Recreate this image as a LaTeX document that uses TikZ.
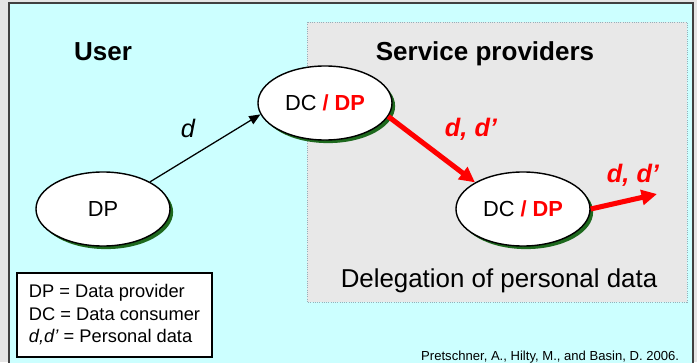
\documentclass[tikz,border=0pt]{standalone}
\usepackage{fontspec}
\setmainfont{Liberation Sans}
\usetikzlibrary{shapes.geometric,arrows.meta,shadows}

\definecolor{bgcyan}{RGB}{204,255,255}
\definecolor{panelgrey}{RGB}{232,232,232}
\definecolor{panelrim}{RGB}{150,175,185}
\definecolor{shadowgreen}{RGB}{30,105,30}

\tikzstyle{party} = [ellipse, draw, line width=1pt, fill=white, minimum width=3.35cm, minimum height=1.85cm, inner sep=0pt, font=\fontsize{15.5}{18}\selectfont, drop shadow={shadow xshift=2.2pt, shadow yshift=-2.2pt, fill=shadowgreen, opacity=1}]
\tikzstyle{flow} = [draw, line width=0.9pt, -{Triangle[length=8pt,width=6.5pt]}]
\tikzstyle{delegate} = [draw, red, line width=3.6pt, -{Triangle[length=11pt,width=10.5pt]}]
\tikzstyle{title} = [anchor=base, font=\fontsize{18.5}{22}\selectfont\bfseries]
\tikzstyle{datalabel} = [anchor=base, text=red, font=\fontsize{18}{21}\selectfont\bfseries\itshape]

\begin{document}
\begin{tikzpicture}[x=0.025cm, y=-0.025cm]

		%frame
		\useasboundingbox (0,0) rectangle (697,362);
		\fill[black!10] (0,0) rectangle (697,362);
		\draw[fill=bgcyan, draw=black!75, line width=1.2pt] (9,3) rectangle (693,372);
		%service providers area
		\draw[fill=panelgrey, draw=panelrim, densely dotted, line width=0.6pt] (307,22) rectangle (687,302);
		%titles
		\node[title] (user) at (103,60) {User};
		\node[title] (providers) at (485,60) {Service providers};
		%parties
		\node[party] (dp) at (103,209) {DP};
		\node[party] (dca) at (325,103) {DC \textcolor{red}{\textbf{/ DP}}};
		\node[party] (dcb) at (523,209) {DC \textcolor{red}{\textbf{/ DP}}};
		\coordinate (out) at (657,194);
		%arrows
		\draw[flow] (dp.30) -- (dca.190);
		\draw[delegate] (dca.-12) -- (dcb.151);
		\draw[delegate] (dcb.east) -- (out);
		%labels
		\node[anchor=base, font=\fontsize{18}{21}\selectfont\itshape] (d) at (188,137) {d};
		\node[datalabel] (dd1) at (471,136) {d, d’};
		\node[datalabel] (dd2) at (633,182) {d, d’};
		\node[anchor=base, font=\fontsize{18.4}{22}\selectfont] (delegation) at (499,287) {Delegation of personal data};
		%legend
		\node[draw, fill=white, line width=1pt, minimum width=4.875cm, minimum height=2.1cm, align=left, font=\fontsize{13}{16}\selectfont] (legend) at (114.5,315) {DP = Data provider\\DC = Data consumer\\\textit{d,d’} = Personal data};
		%citation
		\node[anchor=base east, font=\fontsize{9.3}{11}\selectfont] (cite) at (684,360) {Pretschner, A., Hilty, M., and Basin, D. 2006.};
\end{tikzpicture}
\end{document}
